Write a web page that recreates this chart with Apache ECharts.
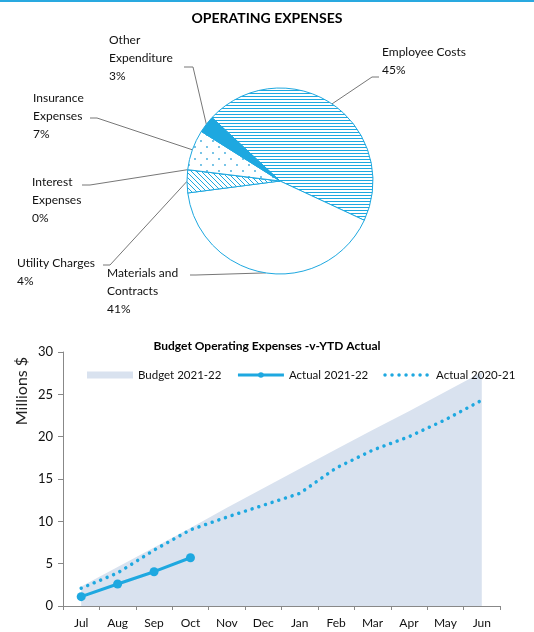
<!DOCTYPE html>
<html>
<head>
<meta charset="utf-8">
<script src="https://cdn.jsdelivr.net/npm/echarts@6/dist/echarts.min.js"></script>
<style>
html,body{margin:0;padding:0;background:#fff;}
#chart{width:534px;height:632px;}
</style>
</head>
<body>
<div id="chart"></div>
<script>
// ---- Data ----
const pieCategories = ['Employee Costs', 'Materials and\nContracts', 'Utility Charges', 'Interest\nExpenses', 'Insurance\nExpenses', 'Other\nExpenditure'];
const pieValues = [45, 41, 4, 0, 7, 3];

const months = ['Jul', 'Aug', 'Sep', 'Oct', 'Nov', 'Dec', 'Jan', 'Feb', 'Mar', 'Apr', 'May', 'Jun'];
const budget2122 = [2.3, 4.6, 6.9, 9.2, 11.6, 13.9, 16.2, 18.5, 20.8, 23.0, 25.3, 27.6];
const actual2122 = [1.1, 2.6, 4.05, 5.7];
const actual2021 = [2.1, 3.9, 6.6, 9.0, 10.5, 11.9, 13.3, 16.3, 18.4, 20.0, 22.0, 24.3];
const yTicks = { min: 0, max: 30, interval: 5 };

// ---- Styles ----
const BLUE = '#1EA8E0';
const TEXT = '#111';
const FONT = 'Lato, "Liberation Sans", sans-serif';

function makePattern(w, h, draw) {
  const c = document.createElement('canvas');
  c.width = w; c.height = h;
  const ctx = c.getContext('2d');
  ctx.fillStyle = '#ffffff';
  ctx.fillRect(0, 0, w, h);
  draw(ctx);
  return { image: c, repeat: 'repeat' };
}
const hLines = makePattern(8, 3, ctx => { ctx.fillStyle = BLUE; ctx.fillRect(0, 0, 8, 1); });
const diagLines = makePattern(5, 5, ctx => {
  ctx.strokeStyle = BLUE; ctx.lineWidth = 1;
  ctx.beginPath();
  ctx.moveTo(-1, -1); ctx.lineTo(6, 6);
  ctx.moveTo(-1, 4); ctx.lineTo(1, 6);
  ctx.moveTo(4, -1); ctx.lineTo(6, 1);
  ctx.stroke();
});
const dots = makePattern(12, 12, ctx => {
  ctx.fillStyle = '#3aa9dc';
  ctx.beginPath(); ctx.arc(3, 3, 0.9, 0, Math.PI * 2); ctx.fill();
  ctx.beginPath(); ctx.arc(9, 9, 0.9, 0, Math.PI * 2); ctx.fill();
});
const sliceFills = [hLines, '#ffffff', diagLines, '#ffffff', dots, BLUE];

// label layout: top-left of label, elbow and end of leader line
const labelPlaces = [
  { x: 382, y: 43, elbow: [372, 77], end: [379, 77] },
  { x: 107, y: 264, elbow: [196, 275], end: [190, 275] },
  { x: 17, y: 254, elbow: [110, 265], end: [103, 265] },
  { x: 32, y: 173, elbow: [90, 185], end: [82, 185] },
  { x: 33, y: 89, elbow: [97, 118], end: [90, 118] },
  { x: 109, y: 31, elbow: [193, 67], end: [184, 67] }
];

const chart = echarts.init(document.getElementById('chart'), null, { renderer: 'canvas' });

const option = {
  animation: false,
  backgroundColor: '#ffffff',
  textStyle: { fontFamily: FONT },
  title: [
    { text: 'OPERATING EXPENSES', left: 'center', top: 6,
      textStyle: { fontSize: 14, fontWeight: 'bold', color: '#000', fontFamily: FONT } },
    { text: 'Budget Operating Expenses -v-YTD Actual', left: 262, textAlign: 'center', top: 335,
      textStyle: { fontSize: 12, fontWeight: 'bold', color: '#000', fontFamily: FONT } }
  ],
  graphic: [
    { type: 'rect', shape: { x: 0, y: 0, width: 534, height: 2 }, style: { fill: '#29A9E0' } },
    { type: 'text', x: 22, y: 391, rotation: Math.PI / 2,
      style: { text: 'Millions $', fontSize: 16, fill: '#222', fontFamily: FONT, align: 'center', verticalAlign: 'middle' } }
  ],
  legend: {
    left: 82, top: 364,
    itemWidth: 46, itemHeight: 7, itemGap: 15,
    textStyle: { fontSize: 11.5, color: TEXT, fontFamily: FONT },
    data: [
      { name: 'Budget 2021-22', icon: 'rect', itemStyle: { color: '#D9E2EF' } },
      { name: 'Actual 2021-22', lineStyle: { width: 3 } },
      { name: 'Actual 2020-21', lineStyle: { width: 3.5 }, itemStyle: { opacity: 0 } }
    ]
  },
  grid: { left: 63, right: 34, top: 352, bottom: 26, containLabel: false },
  xAxis: {
    type: 'category', data: months, boundaryGap: true,
    axisLine: { lineStyle: { color: '#888', width: 1 } },
    axisTick: { show: true, length: 4, lineStyle: { color: '#888' } },
    axisLabel: { fontSize: 12, color: TEXT, margin: 11, fontFamily: FONT }
  },
  yAxis: {
    type: 'value', min: yTicks.min, max: yTicks.max, interval: yTicks.interval,
    axisLine: { show: true, lineStyle: { color: '#888', width: 1 } },
    axisTick: { show: true, length: 5, lineStyle: { color: '#888' } },
    splitLine: { show: false },
    axisLabel: { fontSize: 13, color: TEXT, margin: 10, fontFamily: FONT }
  },
  series: [
    {
      type: 'pie', name: 'Operating Expenses',
      center: [280, 181], radius: 93,
      startAngle: 137, clockwise: true,
      avoidLabelOverlap: false,
      data: pieCategories.map((n, i) => ({
        name: n, value: pieValues[i],
        itemStyle: { color: sliceFills[i], borderColor: BLUE, borderWidth: 1 }
      })),
      label: {
        show: true, position: 'outside', color: TEXT, fontSize: 12, lineHeight: 18,
        fontFamily: FONT, align: 'left',
        formatter: p => p.name + '\n' + Math.round(p.percent) + '%'
      },
      labelLine: { show: true, length: 15, length2: 10, lineStyle: { color: '#777', width: 1 } },
      labelLayout: function (params) {
        const pl = labelPlaces[params.dataIndex];
        const p0 = params.labelLinePoints ? params.labelLinePoints[0] : pl.elbow;
        return {
          x: pl.x, y: pl.y, align: 'left', verticalAlign: 'top',
          labelLinePoints: [p0, pl.elbow, pl.end]
        };
      },
      emphasis: { disabled: true }
    },
    {
      type: 'line', name: 'Budget 2021-22', data: budget2122,
      symbol: 'none', lineStyle: { width: 0, color: '#D9E2EF' },
      itemStyle: { color: '#D9E2EF' },
      areaStyle: { color: '#D9E2EF', opacity: 1 }, z: 1
    },
    {
      type: 'line', name: 'Actual 2021-22', data: actual2122,
      symbol: 'circle', symbolSize: 9,
      lineStyle: { width: 3, color: BLUE }, itemStyle: { color: BLUE }, z: 3
    },
    {
      type: 'line', name: 'Actual 2020-21', data: actual2021,
      symbol: 'none',
      lineStyle: { width: 3.5, color: BLUE, type: [0.01, 7], cap: 'round' },
      itemStyle: { color: BLUE }, z: 2
    }
  ]
};
chart.setOption(option);
</script>
</body>
</html>
